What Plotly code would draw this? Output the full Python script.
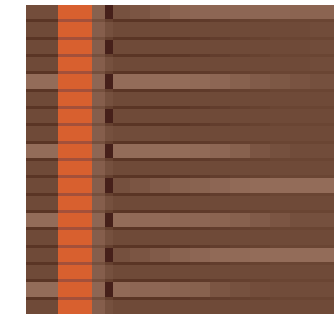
import plotly.graph_objects as go
import numpy as np

# column edges (x positions of cell boundaries)
col_edges = [26, 58, 92, 105, 113, 130, 150, 170, 190, 210, 230, 250, 270, 290, 310, 334]

# band / separator heights
band_height = 14.3
sep_height = 3.0

# band rows (18), 15 columns each
band_rows = [
    [4.3, 10, 6.0, 0.0, 4.6, 5.0, 5.5, 6.3, 6.5, 6.5, 6.5, 6.5, 6.5, 6.3, 6.3],
    [4.0, 10, 5.8, 4.5, 4.0, 4.0, 4.0, 4.0, 4.0, 4.0, 4.0, 4.0, 4.0, 4.0, 4.2],
    [4.0, 10, 5.8, 0.0, 4.0, 4.0, 4.0, 4.0, 4.0, 4.0, 4.0, 4.0, 4.0, 4.0, 4.2],
    [4.0, 10, 5.8, 4.5, 4.0, 4.0, 4.0, 4.0, 4.0, 4.0, 4.0, 4.0, 4.0, 4.0, 4.2],
    [7.0, 10, 6.5, 0.0, 7.0, 7.0, 7.0, 7.0, 6.8, 6.5, 6.0, 5.5, 5.2, 4.8, 4.5],
    [4.0, 10, 5.8, 4.5, 4.0, 4.0, 4.0, 4.0, 4.0, 4.0, 4.0, 4.0, 4.0, 4.0, 4.0],
    [4.0, 10, 5.8, 0.0, 4.0, 4.0, 4.0, 4.0, 4.0, 4.0, 4.0, 4.0, 4.0, 4.0, 4.0],
    [4.0, 10, 5.8, 4.5, 4.2, 4.2, 4.2, 4.0, 4.0, 4.0, 4.0, 4.0, 4.0, 4.0, 4.0],
    [7.0, 10, 6.5, 0.0, 7.0, 7.0, 7.0, 7.0, 6.8, 6.5, 6.0, 5.0, 4.5, 4.2, 4.2],
    [4.0, 10, 5.8, 4.5, 4.0, 4.0, 4.0, 4.0, 4.0, 4.0, 4.0, 4.0, 4.0, 4.0, 4.0],
    [4.0, 10, 5.8, 0.0, 4.5, 5.0, 5.5, 6.0, 6.2, 6.5, 6.8, 7.0, 7.0, 7.0, 7.0],
    [4.0, 10, 5.8, 4.5, 4.0, 4.0, 4.0, 4.0, 4.0, 4.0, 4.0, 4.0, 4.0, 4.0, 4.0],
    [7.0, 10, 6.5, 0.0, 7.0, 6.8, 6.8, 6.5, 6.5, 6.3, 6.0, 5.5, 5.0, 4.5, 4.5],
    [4.0, 10, 5.8, 4.5, 4.0, 4.0, 4.0, 4.0, 4.0, 4.0, 4.0, 4.0, 4.0, 4.0, 4.0],
    [4.0, 10, 5.8, 0.0, 4.5, 5.0, 5.5, 6.2, 6.5, 6.8, 6.8, 7.0, 7.0, 7.0, 7.0],
    [4.0, 10, 5.8, 4.5, 4.0, 4.0, 4.0, 4.0, 4.0, 4.0, 4.0, 4.0, 4.0, 4.0, 4.0],
    [7.0, 10, 6.5, 0.0, 6.8, 6.5, 6.5, 6.2, 6.0, 5.0, 4.6, 4.3, 4.2, 4.2, 4.2],
    [4.0, 10, 5.8, 4.5, 4.0, 4.0, 4.0, 4.0, 4.0, 4.0, 4.0, 4.0, 4.0, 4.0, 4.0],
]

# separator row profile (between bands)
sep_profile = [2.0, 8.0, 4.5, 3.0, 2.0, 2.0, 2.0, 2.2, 2.5, 2.8, 3.0, 3.2, 3.5, 3.5, 3.5]

z = []
heights = []
for i, row in enumerate(band_rows):
    z.append(row)
    heights.append(band_height)
    if i < len(band_rows) - 1:
        z.append(sep_profile)
        heights.append(sep_height)

y_edges = np.concatenate([[0], np.cumsum(heights)])
total = float(y_edges[-1])

colorscale = [
    [0.0, "#46201a"],
    [0.2, "#5a3525"],
    [0.4, "#6f4a38"],
    [0.7, "#936c59"],
    [0.8, "#a4503a"],
    [1.0, "#d8602f"],
]

fig = go.Figure(go.Heatmap(
    z=z, x=col_edges, y=y_edges, zmin=0, zmax=10,
    colorscale=colorscale, showscale=False, hoverinfo="skip",
))
fig.update_layout(
    width=334, height=316,
    margin=dict(l=26, r=0, t=5, b=2),
    paper_bgcolor="white", plot_bgcolor="white",
    xaxis=dict(range=[26, 334], visible=False, fixedrange=True),
    yaxis=dict(range=[total, 0], visible=False, fixedrange=True),
)
fig.write_html("out.html", post_script="document.body.style.margin='0';",
               config={"displayModeBar": False})
